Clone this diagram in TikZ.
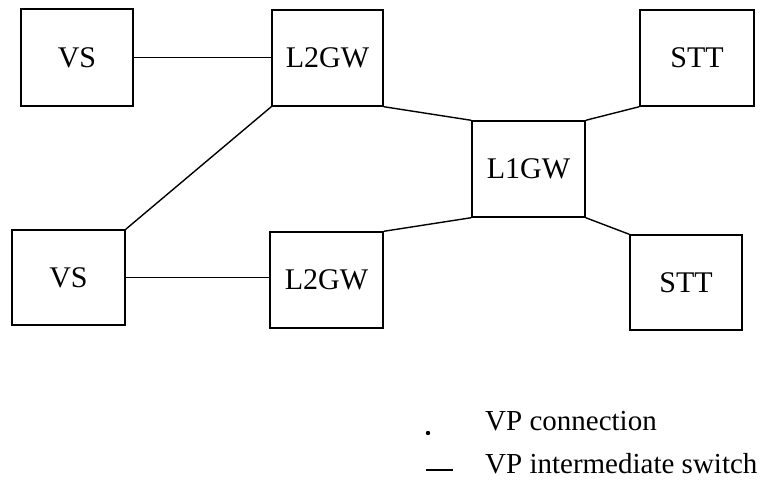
\documentclass[tikz,border=0pt]{standalone}
\usepackage{fontspec}
\setmainfont{Liberation Serif}
\begin{document}
\begin{tikzpicture}[x=1pt,y=-1pt,
  box/.style={draw, line width=1.4pt, inner sep=0pt, font=\fontsize{30}{32}\selectfont},
  link/.style={line width=1.4pt},
  legendtext/.style={anchor=west, inner sep=0pt, font=\fontsize{29}{31}\selectfont}]
\path[use as bounding box, fill=white] (0,0) rectangle (774,483);
\node[box, minimum width=112pt, minimum height=97pt] (vs1) at (77,57.5) {VS};
\node[box, minimum width=111pt, minimum height=96pt] (l2a) at (327.5,58) {L2GW};
\node[box, minimum width=114pt, minimum height=96pt] (stt1) at (697,58) {STT};
\node[box, minimum width=113pt, minimum height=96pt] (l1) at (528.5,169) {L1GW};
\node[box, minimum width=113pt, minimum height=95pt] (vs2) at (68.5,277.5) {VS};
\node[box, minimum width=113pt, minimum height=96pt] (l2b) at (326.5,280) {L2GW};
\node[box, minimum width=112pt, minimum height=95pt] (stt2) at (686,282.5) {STT};
\draw[link] (vs1.east) -- (vs1.east -| l2a.west);
\draw[link] (l2a.south west) -- (vs2.north east);
\draw[link] (l2a.south east) -- (l1.north west);
\draw[link] (l1.north east) -- (stt1.south west);
\draw[link] (l1.south east) -- (stt2.north west);
\draw[link] (l2b.north east) -- (l1.south west);
\draw[link] (vs2.east) -- (vs2.east -| l2b.west);
% legend
\fill (428,433) circle (2.2pt);
\node[legendtext] (lg1) at (485,421) {VP connection};
\coordinate (d1) at (426,470);
\coordinate (d2) at (453,470);
\draw[link] (d1) -- (d2);
\node[legendtext] (lg2) at (485,464) {VP intermediate switch};
\end{tikzpicture}
\end{document}
